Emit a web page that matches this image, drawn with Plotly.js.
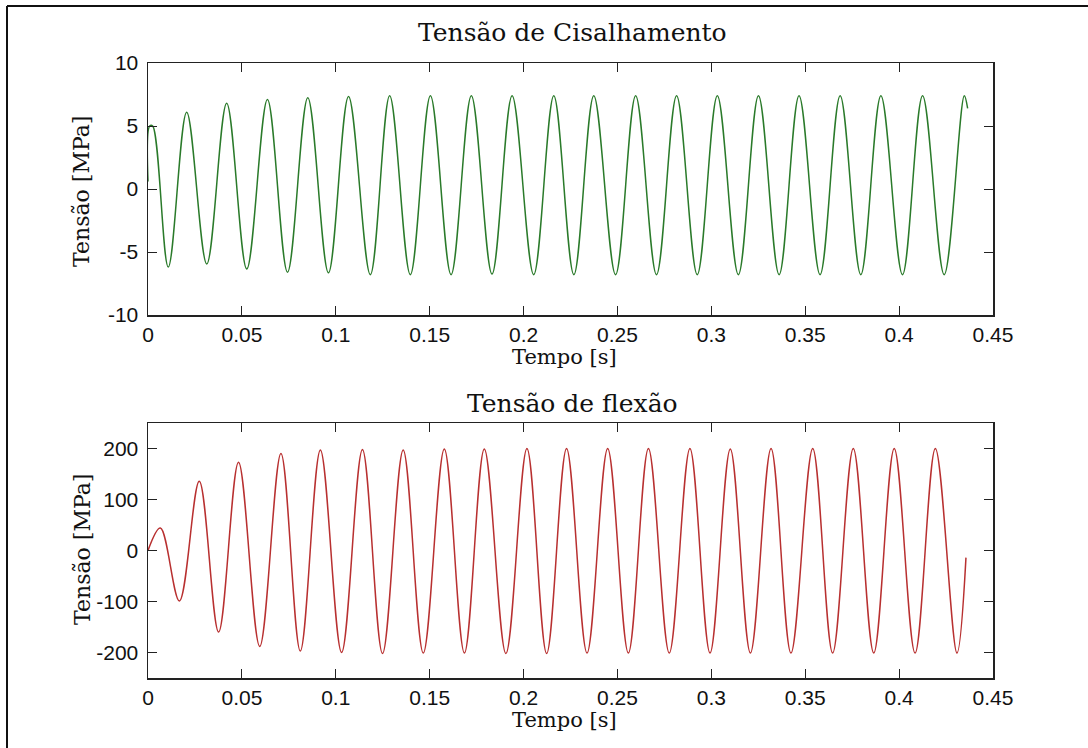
<!DOCTYPE html>
<html>
<head>
<meta charset="utf-8">
<script src="https://cdn.plot.ly/plotly-3.0.1.min.js"></script>
<style>
  html, body { margin: 0; padding: 0; background: #ffffff; }
  #chart { width: 1088px; height: 748px; }
</style>
</head>
<body>
<div id="chart"></div>
<script>
// ---- Data (peaks / troughs of each signal) ----
const tempoCisalhamento = [0, 0.0009, 0.0025, 0.0108, 0.0206, 0.0313, 0.0419, 0.0526, 0.0636, 0.0743,
  0.0851, 0.0961, 0.1068, 0.1184, 0.1287, 0.1397, 0.1504, 0.1614, 0.1722, 0.1832,
  0.1939, 0.2054, 0.2161, 0.2268, 0.2374, 0.2490, 0.2597, 0.2708, 0.2815, 0.2925,
  0.3032, 0.3144, 0.3251, 0.3361, 0.3467, 0.3579, 0.3686, 0.3796, 0.3903, 0.4018,
  0.4125, 0.4240, 0.4347, 0.4365];
const tensaoCisalhamento = [0.6, 5.0, 5.0, -6.2, 6.1, -5.95, 6.8, -6.35, 7.1, -6.6,
  7.25, -6.65, 7.35, -6.8, 7.4, -6.8, 7.4, -6.8, 7.4, -6.75,
  7.4, -6.8, 7.4, -6.8, 7.4, -6.8, 7.4, -6.8, 7.4, -6.8,
  7.4, -6.8, 7.4, -6.8, 7.4, -6.8, 7.4, -6.8, 7.4, -6.8,
  7.4, -6.8, 7.4, 6.4];

const tempoFlexao = [0, 0.0066, 0.0167, 0.0273, 0.0376, 0.0482, 0.0595, 0.0708, 0.0811, 0.0918,
  0.1031, 0.1142, 0.1249, 0.1359, 0.1466, 0.1578, 0.1685, 0.1791, 0.1906, 0.2018,
  0.2123, 0.2229, 0.2338, 0.2448, 0.2558, 0.2665, 0.2776, 0.2886, 0.2993, 0.3101,
  0.3208, 0.3318, 0.3424, 0.3540, 0.3646, 0.3756, 0.3865, 0.3974, 0.4085, 0.4193,
  0.4308, 0.4356];
const tensaoFlexao = [0, 44, -99, 136, -160, 173, -188, 190, -197, 197,
  -200, 198, -202, 197, -201, 199, -201, 199, -202, 200,
  -202, 200, -201, 200, -201, 200, -201, 200, -201, 199,
  -201, 200, -201, 200, -201, 200, -201, 200, -201, 200,
  -201, -14];

const xTickVals = [0, 0.05, 0.1, 0.15, 0.2, 0.25, 0.3, 0.35, 0.4, 0.45];
const xTickText = ["0", "0.05", "0.1", "0.15", "0.2", "0.25", "0.3", "0.35", "0.4", "0.45"];
const y1TickVals = [-10, -5, 0, 5, 10];
const y1TickText = ["-10", "-5", "0", "5", "10"];
const y2TickVals = [-200, -100, 0, 100, 200];
const y2TickText = ["-200", "-100", "0", "100", "200"];

const tituloCis = "Tensão de Cisalhamento";
const tituloFlex = "Tensão de flexão";
const rotuloX = "Tempo [s]";
const rotuloY = "Tensão [MPa]";

// ---- Plot ----
const W = 1088, H = 748;
const M = {l: 148, r: 95, t: 63, b: 70};
const plotW = W - M.l - M.r, plotH = H - M.t - M.b;
const px = x => (x - M.l) / plotW;          // page px -> paper x
const py = y => (H - M.b - y) / plotH;      // page px -> paper y

const tickFont = {family: "Liberation Sans, Arial, sans-serif", size: 21, color: "#111"};
const serif = "DejaVu Serif, serif";

function xAxis(anchor) {
  return {
    anchor: anchor, domain: [0, 1], range: [0, 0.45],
    tickmode: "array", tickvals: xTickVals, ticktext: xTickText,
    ticks: "inside", ticklen: 9, tickwidth: 1, tickcolor: "#222",
    showline: true, linecolor: "#222", linewidth: 1.5, mirror: "allticks",
    showgrid: false, zeroline: false, tickfont: tickFont, ticklabelstandoff: 0,
    fixedrange: true
  };
}
function yAxis(anchor, domain, range, vals, text) {
  return {
    anchor: anchor, domain: domain, range: range,
    tickmode: "array", tickvals: vals, ticktext: text,
    ticks: "inside", ticklen: 9, tickwidth: 1, tickcolor: "#222",
    showline: true, linecolor: "#222", linewidth: 1.5, mirror: "allticks",
    showgrid: false, zeroline: false, tickfont: tickFont, ticklabelstandoff: 4,
    fixedrange: true
  };
}

const traces = [
  {x: tempoCisalhamento, y: tensaoCisalhamento, xaxis: "x", yaxis: "y", mode: "lines",
   line: {color: "#2a7a2a", width: 1.5, shape: "spline", smoothing: 1}, hoverinfo: "skip"},
  {x: tempoFlexao, y: tensaoFlexao, xaxis: "x2", yaxis: "y2", mode: "lines",
   line: {color: "#b83030", width: 1.5, shape: "spline", smoothing: 1}, hoverinfo: "skip"}
];

const layout = {
  width: W, height: H,
  margin: M,
  paper_bgcolor: "#ffffff", plot_bgcolor: "#ffffff",
  showlegend: false,
  xaxis: xAxis("y"),
  yaxis: yAxis("x", [py(315), 1], [-10, 10], y1TickVals, y1TickText),
  xaxis2: xAxis("y2"),
  yaxis2: yAxis("x2", [0, py(423)], [-250, 250], y2TickVals, y2TickText),
  annotations: [
    {text: tituloCis, xref: "paper", yref: "paper", x: px(572), y: py(32), xanchor: "center", yanchor: "middle",
     showarrow: false, font: {family: serif, size: 25, color: "#111"}},
    {text: tituloFlex, xref: "paper", yref: "paper", x: px(572), y: py(403), xanchor: "center", yanchor: "middle",
     showarrow: false, font: {family: serif, size: 25, color: "#111"}},
    {text: rotuloX, xref: "paper", yref: "paper", x: px(564), y: py(357), xanchor: "center", yanchor: "middle",
     showarrow: false, font: {family: serif, size: 21, color: "#111"}},
    {text: rotuloX, xref: "paper", yref: "paper", x: px(564), y: py(720), xanchor: "center", yanchor: "middle",
     showarrow: false, font: {family: serif, size: 21, color: "#111"}},
    {text: rotuloY, xref: "paper", yref: "paper", x: px(82), y: py(192), xanchor: "center", yanchor: "middle",
     textangle: -90, showarrow: false, font: {family: serif, size: 22, color: "#111"}},
    {text: rotuloY, xref: "paper", yref: "paper", x: px(82), y: py(550), xanchor: "center", yanchor: "middle",
     textangle: -90, showarrow: false, font: {family: serif, size: 22, color: "#111"}}
  ],
  shapes: [
    {type: "line", xref: "paper", yref: "paper", x0: px(7), x1: px(7), y0: py(6), y1: py(760),
     line: {color: "#111", width: 2}},
    {type: "line", xref: "paper", yref: "paper", x0: px(7), x1: px(1100), y0: py(6), y1: py(6),
     line: {color: "#111", width: 2}}
  ]
};

Plotly.newPlot("chart", traces, layout, {displayModeBar: false, staticPlot: true});
</script>
</body>
</html>
